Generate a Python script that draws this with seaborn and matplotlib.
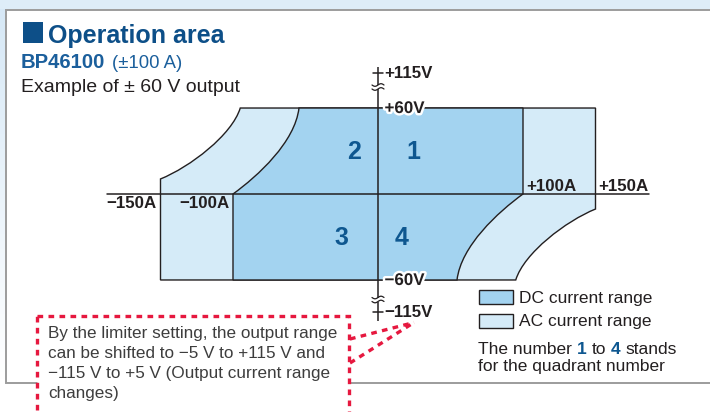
import numpy as np
import pandas as pd
import matplotlib
matplotlib.use("Agg")
import matplotlib.pyplot as plt
import matplotlib.patheffects as pe
from matplotlib.patches import Rectangle, PathPatch
from matplotlib.path import Path
from matplotlib.colors import LinearSegmentedColormap
import seaborn as sns

# ---------------- data ----------------
current_ticks = [-150, -100, 100, 150]
current_labels = ["−150A", "−100A", "+100A", "+150A"]
voltage_ticks = [60, -60]
voltage_labels = ["+60V", "−60V"]
limit_ticks = [84.6, -82.3]          # drawn position of the +-115 V marks (broken axis)
limit_labels = ["+115V", "−115V"]

# AC (outer) boundary: corner points and curve control points (current A, voltage V)
ac_q2_curve_current = [-150.0, -129.7, -100.7, -95.0]
ac_q2_curve_voltage = [10.5, 18.8, 41.2, 60.0]
ac_q4_curve_current = [150.0, 129.7, 100.7, 95.0]
ac_q4_curve_voltage = [-10.5, -18.8, -41.2, -60.0]
ac_limit_current = [-150.0, 150.0]
ac_limit_voltage = [-60.0, 60.0]

# DC (inner) boundary
dc_q2_curve_current = [-100.0, -82.8, -57.2, -54.5]
dc_q2_curve_voltage = [0.0, 12.6, 36.3, 60.0]
dc_q4_curve_current = [100.0, 82.8, 57.2, 54.5]
dc_q4_curve_voltage = [0.0, -12.6, -36.3, -60.0]
dc_limit_current = [-100.0, 100.0]
dc_limit_voltage = [-60.0, 60.0]

quadrant_labels = ["1", "2", "3", "4"]
quadrant_current = [24.1, -16.6, -25.2, 16.2]
quadrant_voltage = [24.4, 24.4, -35.6, -35.6]

legend_labels = ["DC current range", "AC current range"]
note_lines = ["By the limiter setting, the output range",
              "can be shifted to −5 V to +115 V and",
              "−115 V to +5 V (Output current range",
              "changes)"]

# ---------------- style ----------------
sns.set_theme(style="white")
plt.rcParams["font.family"] = ["Liberation Sans", "DejaVu Sans"]

INK = "#231f20"
DC_FILL = "#a3d3f0"
AC_FILL = "#d5ebf8"
TITLE_BLUE = "#0d4f88"
SUB_BLUE = "#1b5f9c"
NUM_BLUE = "#0e5790"
RED = "#e6183f"
NOTE_GRAY = "#3d3d3d"

W, H = 710, 412
fig = plt.figure(figsize=(W / 100, H / 100), dpi=100)


def pix_axes(z):
    a = fig.add_axes([0, 0, 1, 1], zorder=z)
    a.set_xlim(0, W)
    a.set_ylim(H, 0)
    a.axis("off")
    a.patch.set_alpha(0)
    return a


bg = pix_axes(0)
ax = fig.add_axes([0, 0, 1, 1], zorder=1)
OX, OY, SX, SY = 378, 194, 1.45, 1.433
XL = (-OX / SX, (W - OX) / SX)
YL = ((OY - H) / SY, OY / SY)
fg = pix_axes(2)

# ---------------- background panel ----------------
bg.add_patch(Rectangle((0, 0), W, 9, facecolor="#deedf8", edgecolor="none"))
grad = LinearSegmentedColormap.from_list("g", ["#d6e8f6", "#ffffff"])
bg.imshow(np.linspace(0, 1, 100).reshape(-1, 1), cmap=grad, aspect="auto",
          extent=(0, 5.5, 383, 0), origin="upper")
bg.set_xlim(0, W)
bg.set_ylim(H, 0)
bg.add_patch(Rectangle((5.5, 9.5), 760, 373.5, facecolor="white",
                       edgecolor="#9c9c9c", lw=1.4))

# ---------------- operating regions ----------------
ac_verts = ([(ac_limit_current[0], ac_limit_voltage[0])]
            + list(zip(ac_q2_curve_current, ac_q2_curve_voltage))
            + [(ac_limit_current[1], ac_limit_voltage[1])]
            + list(zip(ac_q4_curve_current, ac_q4_curve_voltage))
            + [(ac_limit_current[0], ac_limit_voltage[0])])
ac_codes = ([Path.MOVETO, Path.LINETO] + [Path.CURVE4] * 3
            + [Path.LINETO, Path.LINETO] + [Path.CURVE4] * 3 + [Path.CLOSEPOLY])

dc_verts = (list(zip(dc_q2_curve_current, dc_q2_curve_voltage))
            + [(dc_limit_current[1], dc_limit_voltage[1])]
            + list(zip(dc_q4_curve_current, dc_q4_curve_voltage))
            + [(dc_limit_current[0], dc_limit_voltage[0]),
               (dc_q2_curve_current[0], dc_q2_curve_voltage[0])])
dc_codes = ([Path.MOVETO] + [Path.CURVE4] * 3 + [Path.LINETO, Path.LINETO]
            + [Path.CURVE4] * 3 + [Path.LINETO, Path.CLOSEPOLY])

ax.add_patch(PathPatch(Path(ac_verts, ac_codes), facecolor=AC_FILL, edgecolor=INK,
                       lw=1.0, zorder=1, joinstyle="miter"))
ax.add_patch(PathPatch(Path(dc_verts, dc_codes), facecolor=DC_FILL, edgecolor=INK,
                       lw=1.0, zorder=1.1, joinstyle="miter"))

# ---------------- axes lines ----------------
def v_of(py):
    return (OY - py) / SY


axis_df = pd.DataFrame({"current": [-187.0, 187.0], "voltage": [0.0, 0.0]})
sns.lineplot(data=axis_df, x="current", y="voltage", sort=False, estimator=None,
             color=INK, lw=1.1, ax=ax, zorder=3)
for top, bot in [(67, 85), (89, 297.5), (301.5, 321)]:
    ax.plot([0, 0], [v_of(top), v_of(bot)], color=INK, lw=1.1, zorder=3,
            solid_capstyle="butt")
wx = np.linspace(-6, 6, 40)
wy = -1.3 * np.sin(wx / 6 * np.pi)
for cy in (85, 89, 297.5, 301.5):
    fg.plot(OX + wx, cy + wy, color=INK, lw=0.9)
for v in limit_ticks:
    ax.plot([-3.6, 3.6], [v, v], color=INK, lw=1.1, zorder=3)

ax.set_xlim(*XL)
ax.set_ylim(*YL)
ax.axis("off")
ax.patch.set_alpha(0)

halo = [pe.withStroke(linewidth=3.5, foreground="white")]
lab_kw = dict(fontsize=12.2, fontweight="bold", color=INK, textcoords="offset pixels",
              va="baseline", zorder=5)
for c, lab in zip(current_ticks, current_labels):
    if c < 0:
        ax.annotate(lab, (c, 0), xytext=(-3.5, -14), ha="right", **lab_kw)
    else:
        ax.annotate(lab, (c, 0), xytext=(3, 3), ha="left", **lab_kw)
for v, lab in zip(voltage_ticks, voltage_labels):
    ax.annotate(lab, (0, v), xytext=(6.5, -5), ha="left", path_effects=halo, **lab_kw)
for v, lab in zip(limit_ticks, limit_labels):
    ax.annotate(lab, (0, v), xytext=(6.5, -5), ha="left", **lab_kw)

for lab, c, v in zip(quadrant_labels, quadrant_current, quadrant_voltage):
    ax.text(c, v, lab, fontsize=18, fontweight="bold", color=NUM_BLUE,
            ha="center", va="baseline", zorder=5)

# ---------------- title block ----------------
fg.add_patch(Rectangle((23, 22), 20, 21, facecolor=TITLE_BLUE, edgecolor="none"))
fg.text(48.5, 42.5, "Operation area", fontsize=18, fontweight="bold",
        color=TITLE_BLUE, va="baseline", ha="left")
fg.text(21, 68, "BP46100", fontsize=14.6, fontweight="bold", color=SUB_BLUE,
        va="baseline", ha="left")
fg.text(112, 68, "(±100 A)", fontsize=13.3, color=SUB_BLUE, va="baseline", ha="left")
fg.text(21, 92, "Example of ± 60 V output", fontsize=14, color=INK,
        va="baseline", ha="left")

# ---------------- legend ----------------
for (y0, fill, lab, base) in [(290, DC_FILL, legend_labels[0], 303),
                              (313.5, AC_FILL, legend_labels[1], 326)]:
    fg.add_patch(Rectangle((478.5, y0), 34.5, 14, facecolor=fill, edgecolor=INK, lw=1.0))
    fg.text(519, base, lab, fontsize=12.5, color=INK, va="baseline", ha="left")

renderer = fig.canvas.get_renderer()


def ink_width(s, **kw):
    t = fg.text(0, 0, s, **kw)
    w = t.get_window_extent(renderer=renderer).width
    t.remove()
    return w


def rich_line(x0, y, pieces, size):
    full = "".join(s for s, _ in pieces)
    pos = 0
    for s, props in pieces:
        start = pos
        pos += len(s)
        core = s.strip()
        if not core:
            continue
        lead = len(s) - len(s.lstrip())
        end = start + lead + len(core)
        off = ink_width(full[:end], fontsize=size) - ink_width(core, fontsize=size)
        fg.text(x0 + off, y, core, fontsize=size, va="baseline", ha="left", **props)


normal = dict(color=INK)
blue = dict(color=NUM_BLUE, fontweight="bold")
rich_line(478, 353.5, [("The number ", normal), ("1", blue), (" to ", normal),
                       ("4", blue), (" stands", normal)], 12.5)
fg.text(478, 370.5, "for the quadrant number", fontsize=12.5, color=INK,
        va="baseline", ha="left")

# ---------------- callout ----------------
dot = dict(color=RED, lw=2.4, linestyle=(0, (1.7, 1.6)), dash_capstyle="butt")
fg.add_patch(Rectangle((36.5, 315.5), 312.5, 120, facecolor="white", edgecolor=RED,
                       lw=2.4, linestyle=(0, (1.7, 1.6)), zorder=3))
fg.plot([350, 414], [339, 322.5], **dot)
fg.plot([350, 414], [363, 322.5], **dot)
for i, line in enumerate(note_lines):
    fg.text(48, 338 + 20 * i, line, fontsize=12.3, color=NOTE_GRAY, va="baseline",
            ha="left", zorder=4)

fig.savefig("out.png", dpi=100)
